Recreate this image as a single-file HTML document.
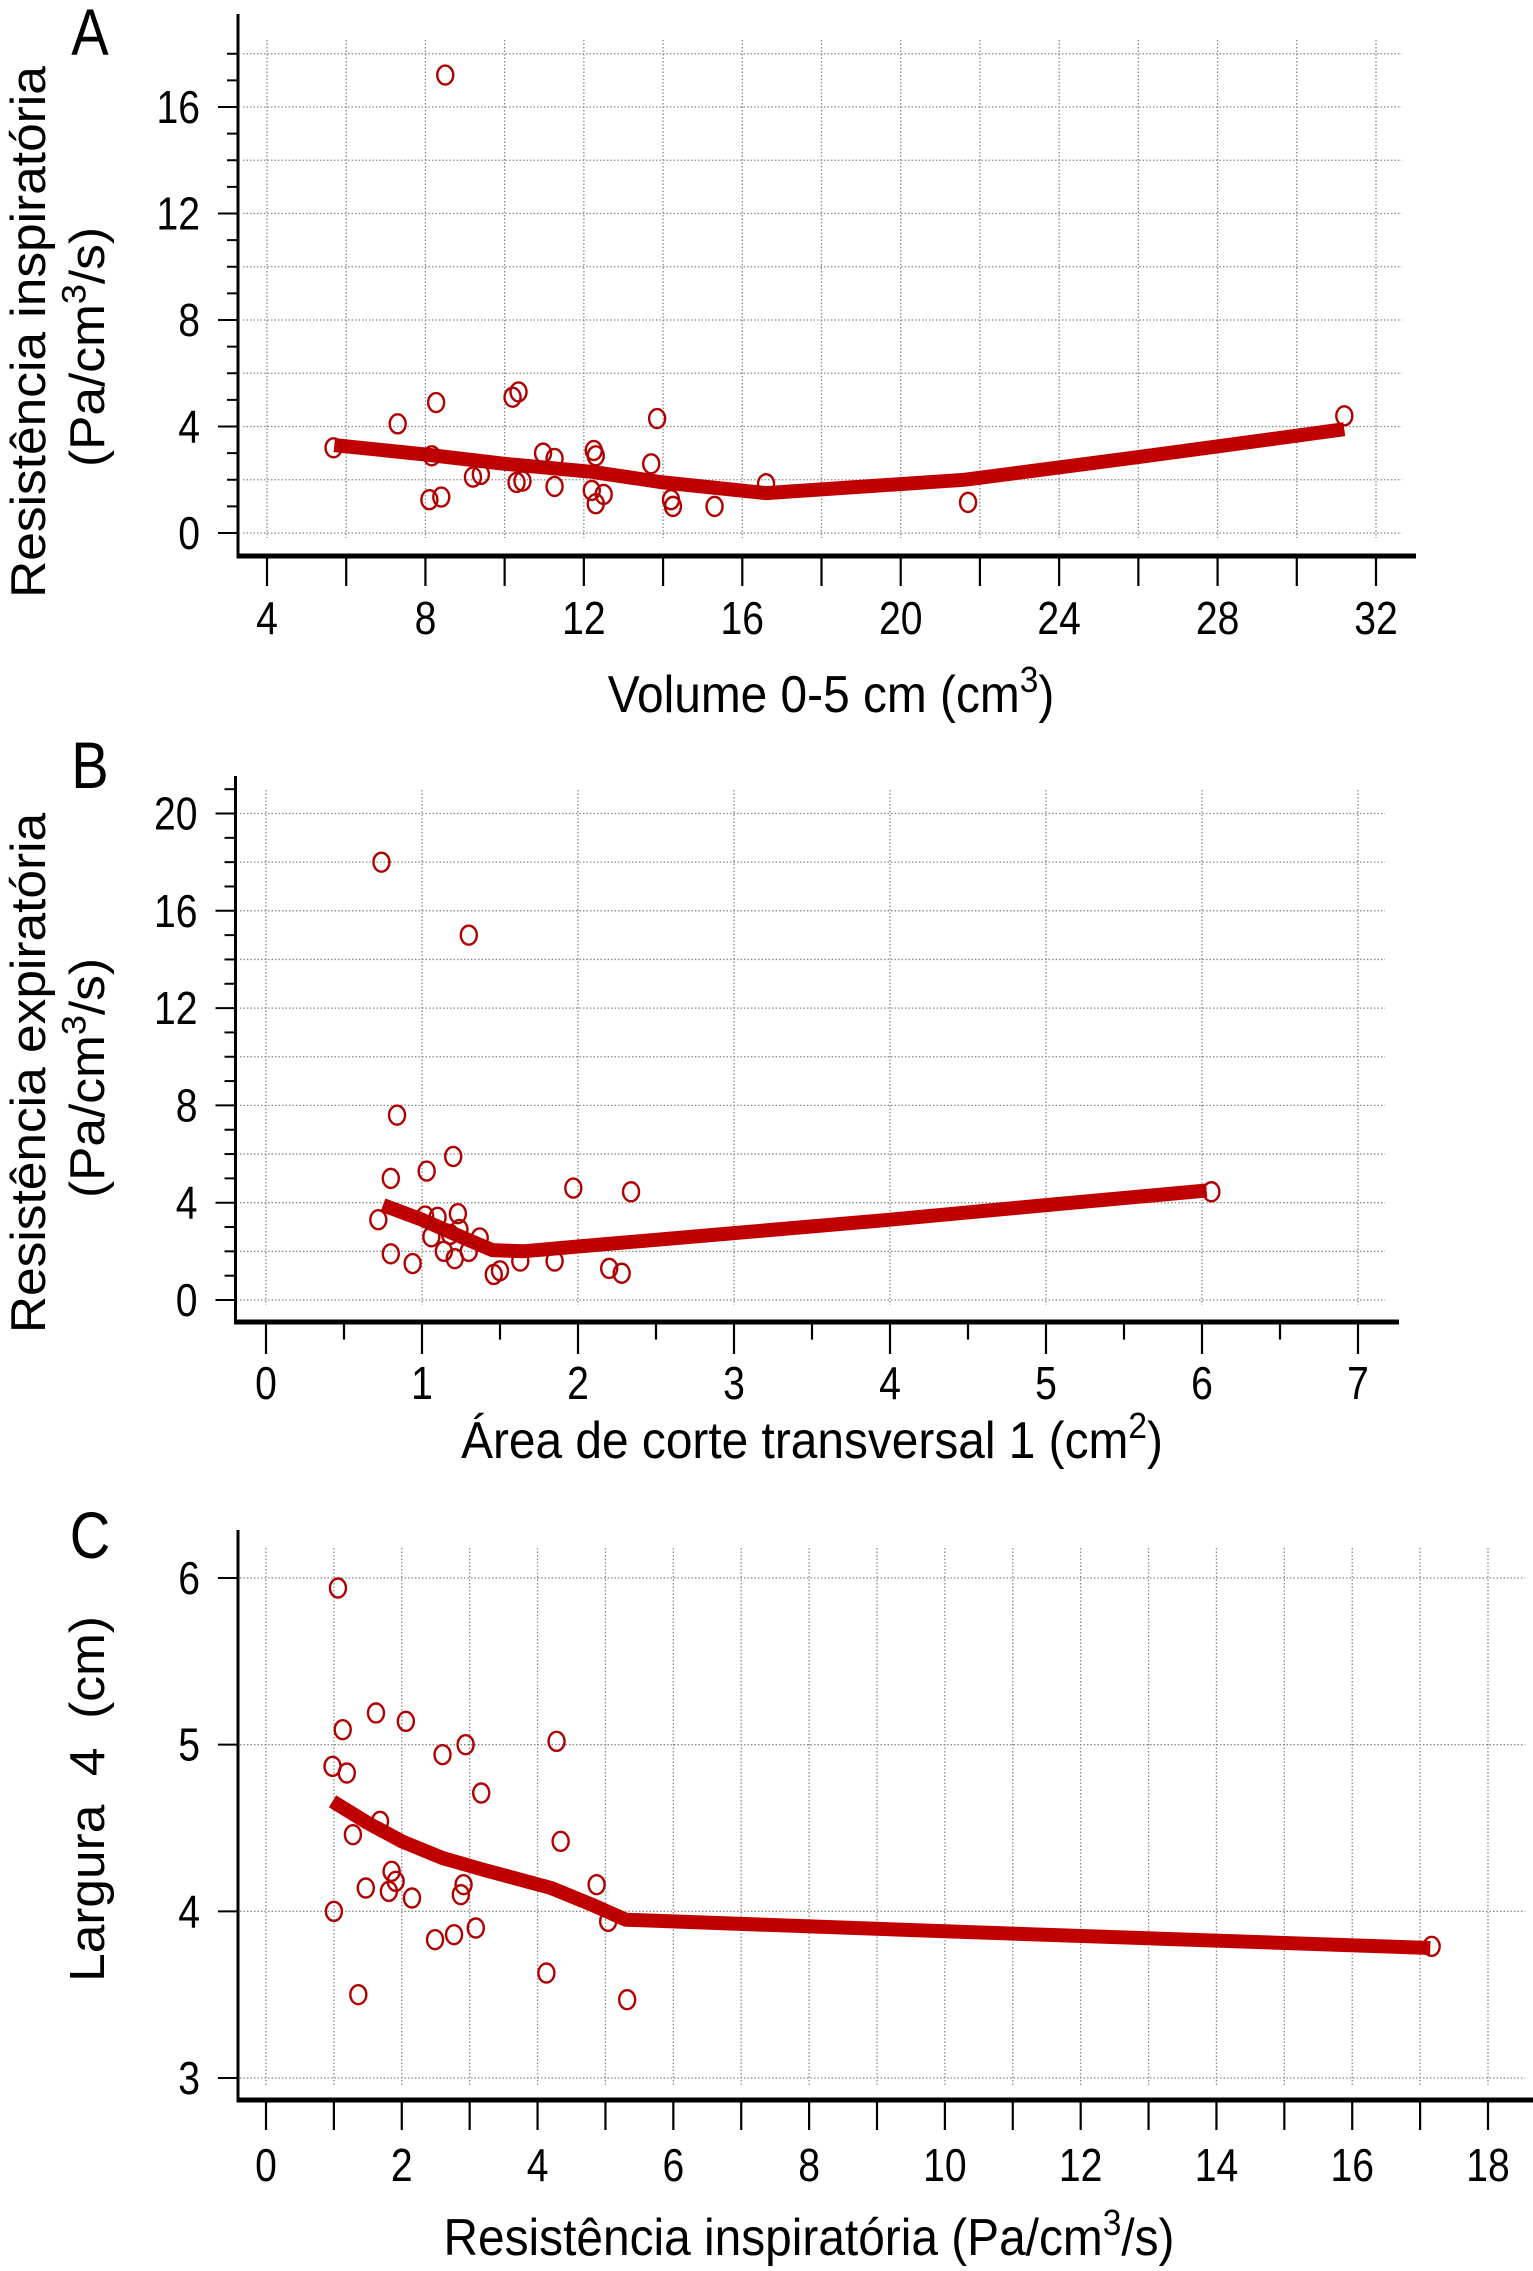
<!DOCTYPE html>
<html><head><meta charset="utf-8"><style>
html,body{margin:0;padding:0;background:#fff;}
svg{display:block;font-family:"Liberation Sans",sans-serif;}
</style></head><body>
<svg id="fig" width="1533" height="2271" viewBox="0 0 1533 2271" xmlns="http://www.w3.org/2000/svg"></svg>
<script>
// Panel A data
const aX = [5.68,7.3,8.27,8.16,8.1,8.4,8.5,9.2,9.4,10.2,10.35,10.3,10.45,10.97,11.26,11.26,12.25,12.3,12.2,12.3,12.5,13.7,13.85,14.2,14.25,15.3,16.6,21.7,31.2];
const aY = [3.2,4.1,4.9,2.9,1.25,1.35,17.2,2.1,2.2,5.1,5.3,1.9,1.95,3.0,2.8,1.75,3.1,2.9,1.6,1.1,1.45,2.6,4.3,1.25,1.0,1.0,1.85,1.15,4.4];
const aFitX = [5.7,8,10,12.2,14,16.6,21.6,26,31.2];
const aFitY = [3.3,2.95,2.6,2.3,1.9,1.5,2.0,2.85,3.9];
const aXTicks = [4,8,12,16,20,24,28,32];
const aYTicks = [0,4,8,12,16];
// Panel B data
const bX = [0.74,1.3,0.84,0.8,1.03,1.2,0.72,0.8,0.94,1.02,1.1,1.06,1.14,1.18,1.21,1.23,1.24,1.3,1.37,1.46,1.5,1.63,1.85,1.97,2.2,2.28,2.34,6.06];
const bY = [18.0,15.0,7.6,5.0,5.3,5.9,3.3,1.9,1.5,3.45,3.4,2.6,2.0,2.7,1.7,3.55,2.9,2.0,2.55,1.05,1.2,1.6,1.6,4.6,1.3,1.1,4.45,4.45];
const bFitX = [0.75,1.0,1.25,1.45,1.65,2.0,3,4,5,6.03];
const bFitY = [3.9,3.3,2.6,2.05,2.0,2.2,2.75,3.3,3.9,4.5];
const bXTicks = [0,1,2,3,4,5,6,7];
const bYTicks = [0,4,8,12,16,20];
// Panel C data
const cX = [0.98,1.06,1.13,1.19,1.0,1.28,1.36,1.47,1.62,1.68,1.81,1.85,1.91,2.06,2.15,2.49,2.6,2.77,2.87,2.91,2.94,3.09,3.17,4.13,4.28,4.34,4.87,5.04,5.32,17.17];
const cY = [4.87,5.94,5.09,4.83,4.0,4.46,3.5,4.14,5.19,4.54,4.12,4.24,4.18,5.14,4.08,3.83,4.94,3.86,4.1,4.16,5.0,3.9,4.71,3.63,5.02,4.42,4.16,3.94,3.47,3.79];
const cFitX = [0.98,1.5,2.0,2.6,3.2,4.2,4.8,5.3,10,17.15];
const cFitY = [4.66,4.53,4.42,4.32,4.25,4.14,4.04,3.95,3.88,3.78];
const cXTicks = [0,2,4,6,8,10,12,14,16,18];
const cYTicks = [3,4,5,6];

const NS = "http://www.w3.org/2000/svg";
const svg = document.getElementById('fig');
function mk(tag, attrs, parent){
  const e = document.createElementNS(NS, tag);
  for (const k in attrs) e.setAttribute(k, attrs[k]);
  (parent||svg).appendChild(e);
  return e;
}
function txt(parent, x, y, s, size, anchor, sx){
  const t = mk('text', {x:0, y:0, 'font-size':size, 'text-anchor':anchor||'middle', fill:'#000',
    transform:`translate(${x},${y}) scale(${sx||0.85},1)`}, parent);
  t.textContent = s;
  return t;
}

function panel(p){
  const g = mk('g', {});
  
  
  const sx = v => p.x0 + (v - p.xv0) * (p.x1 - p.x0) / (p.xv1 - p.xv0);
  const sy = v => p.y0 + (v - p.yv0) * (p.y1 - p.y0) / (p.yv1 - p.yv0);
  const grid = mk('g', {stroke:'#8a8a8a','stroke-width':1.3,'stroke-dasharray':'1.5,2'}, g);
  
  
  for (let v = p.gxStart; v <= p.gxEnd + 1e-9; v += p.gxStep)
    mk('line', {x1:sx(v), x2:sx(v), y1:p.gTop, y2:p.gBot}, grid);
  for (let v = p.gyStart; v <= p.gyEnd + 1e-9; v += p.gyStep)
    mk('line', {x1:p.gLeft, x2:p.gRight, y1:sy(v), y2:sy(v)}, grid);
  const ax = mk('g', {stroke:'#000'}, g);
  
  
  mk('line', {x1:p.axL, x2:p.axL, y1:p.axTop, y2:p.axB+2.5, 'stroke-width':3}, ax);
  mk('line', {x1:p.axL-1.5, x2:p.axRight, y1:p.axB, y2:p.axB, 'stroke-width':5}, ax);
  for (let v = p.txStart; v <= p.txEnd + 1e-9; v += p.txStep){
    const major = Math.abs(v/p.txMajor - Math.round(v/p.txMajor)) < 1e-6;
    mk('line', {x1:sx(v), x2:sx(v), y1:p.axB, y2:p.axB + (major||p.sameTicks ? p.tLen : p.tLen*0.55), 'stroke-width':2.2}, ax);
  }
  for (let v = p.tyStart; v <= p.tyEnd + 1e-9; v += p.tyStep){
    const major = Math.abs(v/p.tyMajor - Math.round(v/p.tyMajor)) < 1e-6;
    mk('line', {x1:p.axL - (major ? 20 : 11), x2:p.axL, y1:sy(v), y2:sy(v), 'stroke-width':2}, ax);
  }
  p.xTicks.forEach(v => {
    const t = txt(g, sx(v), p.xLabY, String(v), 46);
    
    
  });
  p.yTicks.forEach(v => {
    const t = txt(g, p.axL - 38, sy(v) + 16, String(v), 46, 'end');
    
    
  });
  const d = p.fx.map((v,i) => (i ? 'L' : 'M') + sx(v).toFixed(1) + ',' + sy(p.fy[i]).toFixed(1)).join(' ');
  const path = mk('path', {d:d, fill:'none', stroke:'#c00000', 'stroke-width':14, 'stroke-linejoin':'round'}, g);
  
  
  p.px.forEach((v,i) => {
    const c = mk('ellipse', {cx:sx(v), cy:sy(p.py[i]), rx:8, ry:9.5, fill:'none', stroke:'#b00000', 'stroke-width':2.4}, g);
    
    
  });
  const L = txt(g, 90, p.letterY, p.letter, 66, 'middle', 0.85);
  
  
  return g;
}

panel({name:'panel-a', letter:'A', letterY:55,
  x0:267, x1:1376, xv0:4, xv1:32, y0:533, y1:107, yv0:0, yv1:16,
  gxStart:4, gxEnd:32, gxStep:2, gyStart:0, gyEnd:18, gyStep:2, gTop:40, gBot:538, gLeft:243, gRight:1402,
  axL:238, axTop:14, axB:556, axRight:1416,
  txStart:4, txEnd:32, txStep:2, txMajor:2, tLen:30, sameTicks:true,
  tyStart:0, tyEnd:18, tyStep:1, tyMajor:4,
  xTicks:aXTicks, yTicks:aYTicks, xLabY:634,
  px:aX, py:aY, fx:aFitX, fy:aFitY});

panel({name:'panel-b', letter:'B', letterY:788,
  x0:266, x1:1358, xv0:0, xv1:7, y0:1300, y1:813.5, yv0:0, yv1:20,
  gxStart:0, gxEnd:7, gxStep:1, gyStart:0, gyEnd:20, gyStep:2, gTop:790, gBot:1305, gLeft:240, gRight:1385,
  axL:235.5, axTop:776, axB:1322, axRight:1399,
  txStart:0, txEnd:7, txStep:0.5, txMajor:1, tLen:32, sameTicks:false,
  tyStart:0, tyEnd:21, tyStep:1, tyMajor:4,
  xTicks:bXTicks, yTicks:bYTicks, xLabY:1399,
  px:bX, py:bY, fx:bFitX, fy:bFitY});

panel({name:'panel-c', letter:'C', letterY:1558,
  x0:266, x1:1488, xv0:0, xv1:18, y0:1578, y1:2078, yv0:6, yv1:3,
  gxStart:0, gxEnd:18, gxStep:1, gyStart:3, gyEnd:6, gyStep:1, gTop:1548, gBot:2085, gLeft:240, gRight:1525,
  axL:238, axTop:1530, axB:2100, axRight:1533,
  txStart:0, txEnd:18, txStep:1, txMajor:1, tLen:30, sameTicks:true,
  tyStart:3, tyEnd:6, tyStep:1, tyMajor:1,
  xTicks:cXTicks, yTicks:cYTicks, xLabY:2181,
  px:cX, py:cY, fx:cFitX, fy:cFitY});
</script>
<script>
(function(){
  const NS="http://www.w3.org/2000/svg", svg=document.getElementById('fig');
  function T(x,y,size,rot,html,name,sx){
    const t=document.createElementNS(NS,'text');
    t.setAttribute('transform',`translate(${x},${y}) rotate(${rot}) scale(${sx},1)`);
    t.setAttribute('font-size',size);
    t.setAttribute('text-anchor','middle');
    t.innerHTML=html;
    
    
    svg.appendChild(t);
  }
  const sup='<tspan baseline-shift="super" font-size="0.7em">';
  T(831,712,52,0,'Volume 0-5 cm (cm'+sup+'3</tspan>)','x-axis-title-a',0.92);
  T(45,332,49,-90,'Resistência inspiratória','y-axis-title-a',1.05);
  T(104,347,49,-90,'(Pa/cm'+sup+'3</tspan>/s)','y-axis-units-a',1.05);
  T(812,1458,52,0,'Área de corte transversal 1 (cm'+sup+'2</tspan>)','x-axis-title-b',0.92);
  T(45,1073,49,-90,'Resistência expiratória','y-axis-title-b',1.05);
  T(104,1078,49,-90,'(Pa/cm'+sup+'3</tspan>/s)','y-axis-units-b',1.05);
  T(809,2255,52,0,'Resistência inspiratória (Pa/cm'+sup+'3</tspan>/s)','x-axis-title-c',0.92);
  T(104,1799,49,-90,'Largura&#160;&#160;4&#160;&#160;(cm)','y-axis-title-c',1.05);
})();
</script>
</body></html>
